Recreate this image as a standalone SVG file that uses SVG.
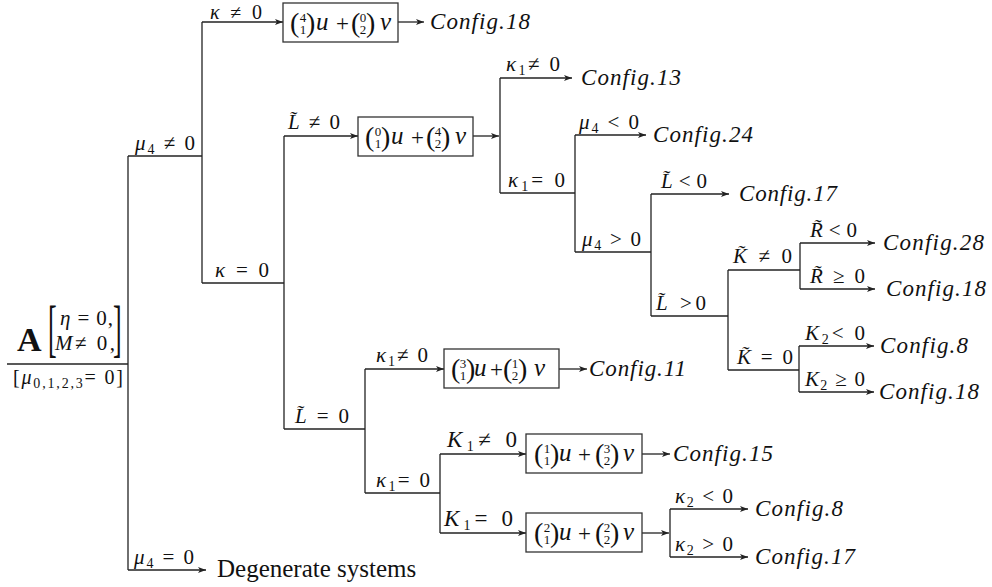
<svg xmlns="http://www.w3.org/2000/svg" width="992" height="587" viewBox="0 0 992 587">
<style>
.ln{fill:none;stroke:#222;stroke-width:1.3}
.ar{marker-end:url(#ah)}
.bx{fill:#fff;stroke:#333;stroke-width:1.3}
text{font-family:"Liberation Serif","DejaVu Serif",serif;fill:#111}
.i{font-style:italic}
.lb{font-size:21px}
.cf{font-size:23px;font-style:italic}
.sb{font-size:14px}
.pr{font-size:28px}
.nm{font-size:13px}
.bv{font-size:25px;font-style:italic}
.pl{font-size:23px}
</style>
<defs>
<marker id="ah" viewBox="0 0 8 6" refX="8" refY="3" markerWidth="8" markerHeight="6" markerUnits="userSpaceOnUse" orient="auto">
<path d="M0,0 L8,3 L0,6 L2,3 z" fill="#222"/>
</marker>
</defs>
<rect width="992" height="587" fill="#fff"/>

<g id="connectors">
<path class="ln" d="M128,156 V570"/>
<path class="ln" d="M128,156 H202"/>
<path class="ln ar" d="M128,570 H206"/>
<path class="ln" d="M202,22 V283"/>
<path class="ln ar" d="M202,22 H283"/>
<path class="ln" d="M202,283 H284"/>
<path class="ln ar" d="M398,22 H424"/>
<path class="ln" d="M284,136 V429"/>
<path class="ln ar" d="M284,136 H358"/>
<path class="ln ar" d="M473,136 H499"/>
<path class="ln" d="M500,78 V193"/>
<path class="ln ar" d="M500,78 H572"/>
<path class="ln" d="M500,193 H575"/>
<path class="ln" d="M575,135 V252"/>
<path class="ln ar" d="M575,135 H646"/>
<path class="ln" d="M575,252 H651"/>
<path class="ln" d="M651,194 V316"/>
<path class="ln ar" d="M651,194 H729"/>
<path class="ln" d="M651,316 H728"/>
<path class="ln" d="M728,270 V370"/>
<path class="ln" d="M728,270 H800"/>
<path class="ln" d="M728,370 H799"/>
<path class="ln" d="M800,243 V289"/>
<path class="ln ar" d="M800,243 H875"/>
<path class="ln ar" d="M800,289 H875"/>
<path class="ln" d="M799,346 V392"/>
<path class="ln ar" d="M799,346 H874"/>
<path class="ln ar" d="M799,392 H874"/>
<path class="ln" d="M284,429 H365"/>
<path class="ln" d="M365,369 V493"/>
<path class="ln ar" d="M365,369 H444"/>
<path class="ln ar" d="M559,369 H587"/>
<path class="ln" d="M365,493 H440"/>
<path class="ln" d="M440,454 V533"/>
<path class="ln ar" d="M440,454 H526"/>
<path class="ln ar" d="M440,533 H526"/>
<path class="ln ar" d="M642,454 H670"/>
<path class="ln ar" d="M642,533 H669"/>
<path class="ln" d="M670,509 V557"/>
<path class="ln ar" d="M670,509 H748"/>
<path class="ln ar" d="M670,557 H748"/>
</g>

<g id="labels">
<text class="lb" x="135" y="150" textLength="60" lengthAdjust="spacing"><tspan class="i">μ</tspan><tspan class="sb" dy="4">4</tspan><tspan dy="-4"> ≠ 0</tspan></text>
<text class="lb" x="210" y="19" style="font-size:20px" textLength="52" lengthAdjust="spacing"><tspan class="i">κ</tspan> ≠ 0</text>
<text class="lb" x="215" y="277" textLength="54" lengthAdjust="spacing"><tspan class="i">κ</tspan> = 0</text>
<text class="lb" x="288" y="129" textLength="52" lengthAdjust="spacing"><tspan class="i">L̃</tspan> ≠ 0</text>
<text class="lb" x="295" y="423" textLength="54" lengthAdjust="spacing"><tspan class="i">L̃</tspan> = 0</text>
<text class="lb" x="506" y="71" textLength="54" lengthAdjust="spacing"><tspan class="i">κ</tspan><tspan class="sb" dy="4">1</tspan><tspan dy="-4">≠ 0</tspan></text>
<text class="lb" x="508" y="187" textLength="57" lengthAdjust="spacing"><tspan class="i">κ</tspan><tspan class="sb" dy="4">1</tspan><tspan dy="-4">= 0</tspan></text>
<text class="lb" x="579" y="129" textLength="60" lengthAdjust="spacing"><tspan class="i">μ</tspan><tspan class="sb" dy="4">4</tspan><tspan dy="-4"> &lt; 0</tspan></text>
<text class="lb" x="582" y="246" textLength="59" lengthAdjust="spacing"><tspan class="i">μ</tspan><tspan class="sb" dy="4">4</tspan><tspan dy="-4"> &gt; 0</tspan></text>
<text class="lb" x="661" y="188" textLength="46" lengthAdjust="spacing"><tspan class="i">L̃</tspan>&lt;0</text>
<text class="lb" x="656" y="310" textLength="50" lengthAdjust="spacing"><tspan class="i">L̃</tspan> &gt;0</text>
<text class="lb" x="733" y="263" textLength="59" lengthAdjust="spacing"><tspan class="i">K̃</tspan> ≠ 0</text>
<text class="lb" x="737" y="364" textLength="56" lengthAdjust="spacing"><tspan class="i">K̃</tspan> = 0</text>
<text class="lb" x="810" y="237" textLength="47" lengthAdjust="spacing"><tspan class="i">R̃</tspan>&lt;0</text>
<text class="lb" x="810" y="283" textLength="55" lengthAdjust="spacing"><tspan class="i">R̃</tspan> ≥ 0</text>
<text class="lb" x="805" y="340" textLength="60" lengthAdjust="spacing"><tspan class="i">K</tspan><tspan class="sb" dy="4">2</tspan><tspan dy="-4">&lt; 0</tspan></text>
<text class="lb" x="805" y="386" textLength="60" lengthAdjust="spacing"><tspan class="i">K</tspan><tspan class="sb" dy="4">2</tspan><tspan dy="-4"> ≥ 0</tspan></text>
<text class="lb" x="376" y="362" textLength="52" lengthAdjust="spacing"><tspan class="i">κ</tspan><tspan class="sb" dy="4">1</tspan><tspan dy="-4">≠ 0</tspan></text>
<text class="lb" x="376" y="487" textLength="54" lengthAdjust="spacing"><tspan class="i">κ</tspan><tspan class="sb" dy="4">1</tspan><tspan dy="-4">= 0</tspan></text>
<text class="lb" x="447" y="447" style="font-size:23px" textLength="70" lengthAdjust="spacing"><tspan class="i">K</tspan><tspan class="sb" dy="4">1</tspan><tspan dy="-4">≠ 0</tspan></text>
<text class="lb" x="444" y="526" style="font-size:23px" textLength="69" lengthAdjust="spacing"><tspan class="i">K</tspan><tspan class="sb" dy="4">1</tspan><tspan dy="-4">= 0</tspan></text>
<text class="lb" x="675" y="503" textLength="58" lengthAdjust="spacing"><tspan class="i">κ</tspan><tspan class="sb" dy="4">2</tspan><tspan dy="-4"> &lt; 0</tspan></text>
<text class="lb" x="675" y="551" textLength="58" lengthAdjust="spacing"><tspan class="i">κ</tspan><tspan class="sb" dy="4">2</tspan><tspan dy="-4"> &gt; 0</tspan></text>
<text class="lb" x="134" y="564" textLength="60" lengthAdjust="spacing"><tspan class="i">μ</tspan><tspan class="sb" dy="4">4</tspan><tspan dy="-4"> = 0</tspan></text>
</g>

<g id="root">
<text x="17" y="351" style="font-size:34px;font-weight:bold">A</text>
<text class="pr" transform="translate(48,349) scale(1,2.4)" style="font-size:26px">[</text>
<text class="lb" x="60" y="325" textLength="53" lengthAdjust="spacing"><tspan class="i">η</tspan> = 0,</text>
<text class="lb" x="55" y="350" textLength="60" lengthAdjust="spacing"><tspan class="i">M</tspan>≠ 0,</text>
<text class="pr" transform="translate(113,349) scale(1,2.4)" style="font-size:26px">]</text>
<path class="ln" d="M7,364 H128"/>
<text x="13" y="384" style="font-size:20px" textLength="110" lengthAdjust="spacing">[<tspan class="i">μ</tspan><tspan style="font-size:14px" dy="4">0,1,2,3</tspan><tspan dy="-4">= 0]</tspan></text>
</g>

<g id="degenerate"><text x="217" y="577" style="font-size:25px">Degenerate systems</text></g>

<g id="box1" transform="translate(283,3)">
<rect class="bx" width="115" height="39"/>
<text><tspan class="pr" x="7" y="29">(</tspan><tspan class="nm" x="16.8" y="19">4</tspan><tspan class="nm" x="16.8" y="31">1</tspan><tspan class="pr" x="23" y="29">)</tspan><tspan class="bv" x="33" y="27">u</tspan><tspan class="pl" x="53" y="28">+</tspan><tspan class="pr" x="68" y="29">(</tspan><tspan class="nm" x="76.8" y="19">0</tspan><tspan class="nm" x="76.8" y="31">2</tspan><tspan class="pr" x="83" y="29">)</tspan><tspan class="bv" x="97" y="27">v</tspan></text>
</g>
<g id="box2" transform="translate(358,117)">
<rect class="bx" width="115" height="39"/>
<text><tspan class="pr" x="7" y="29">(</tspan><tspan class="nm" x="16.8" y="19">0</tspan><tspan class="nm" x="16.8" y="31">1</tspan><tspan class="pr" x="23" y="29">)</tspan><tspan class="bv" x="33" y="27">u</tspan><tspan class="pl" x="53" y="28">+</tspan><tspan class="pr" x="68" y="29">(</tspan><tspan class="nm" x="76.8" y="19">4</tspan><tspan class="nm" x="76.8" y="31">2</tspan><tspan class="pr" x="83" y="29">)</tspan><tspan class="bv" x="97" y="27">v</tspan></text>
</g>
<g id="box3" transform="translate(444,349)">
<rect class="bx" width="115" height="39"/>
<text><tspan class="pr" x="7" y="29">(</tspan><tspan class="nm" x="15.8" y="19">3</tspan><tspan class="nm" x="15.8" y="31">1</tspan><tspan class="pr" x="22" y="29">)</tspan><tspan class="bv" x="30" y="27">u</tspan><tspan class="pl" x="46" y="28">+</tspan><tspan class="pr" x="59" y="29">(</tspan><tspan class="nm" x="67.8" y="19">1</tspan><tspan class="nm" x="67.8" y="31">2</tspan><tspan class="pr" x="74" y="29">)</tspan><tspan class="bv" x="90" y="27">v</tspan></text>
</g>
<g id="box4" transform="translate(526,434)">
<rect class="bx" width="116" height="39"/>
<text><tspan class="pr" x="8" y="29">(</tspan><tspan class="nm" x="17.8" y="19">1</tspan><tspan class="nm" x="17.8" y="31">1</tspan><tspan class="pr" x="24" y="29">)</tspan><tspan class="bv" x="33" y="27">u</tspan><tspan class="pl" x="52" y="28">+</tspan><tspan class="pr" x="69" y="29">(</tspan><tspan class="nm" x="77.8" y="19">3</tspan><tspan class="nm" x="77.8" y="31">2</tspan><tspan class="pr" x="84" y="29">)</tspan><tspan class="bv" x="97" y="27">v</tspan></text>
</g>
<g id="box5" transform="translate(526,513)">
<rect class="bx" width="116" height="39"/>
<text><tspan class="pr" x="8" y="29">(</tspan><tspan class="nm" x="17.8" y="19">2</tspan><tspan class="nm" x="17.8" y="31">1</tspan><tspan class="pr" x="24" y="29">)</tspan><tspan class="bv" x="33" y="27">u</tspan><tspan class="pl" x="52" y="28">+</tspan><tspan class="pr" x="69" y="29">(</tspan><tspan class="nm" x="77.8" y="19">2</tspan><tspan class="nm" x="77.8" y="31">2</tspan><tspan class="pr" x="84" y="29">)</tspan><tspan class="bv" x="97" y="27">v</tspan></text>
</g>

<g id="cfg18a"><text class="cf" x="430" y="29" textLength="100" lengthAdjust="spacing">Config.18</text></g>
<g id="cfg13"><text class="cf" x="581" y="85" textLength="100" lengthAdjust="spacing">Config.13</text></g>
<g id="cfg24"><text class="cf" x="653" y="142" textLength="100" lengthAdjust="spacing">Config.24</text></g>
<g id="cfg17a"><text class="cf" x="739" y="201" textLength="98" lengthAdjust="spacing">Config.17</text></g>
<g id="cfg28"><text class="cf" x="883" y="250" textLength="101" lengthAdjust="spacing">Config.28</text></g>
<g id="cfg18b"><text class="cf" x="886" y="296" textLength="100" lengthAdjust="spacing">Config.18</text></g>
<g id="cfg8a"><text class="cf" x="880" y="353" textLength="88" lengthAdjust="spacing">Config.8</text></g>
<g id="cfg18c"><text class="cf" x="879" y="399" textLength="100" lengthAdjust="spacing">Config.18</text></g>
<g id="cfg11"><text class="cf" x="589" y="376" textLength="97" lengthAdjust="spacing">Config.11</text></g>
<g id="cfg15"><text class="cf" x="673" y="461" textLength="100" lengthAdjust="spacing">Config.15</text></g>
<g id="cfg8b"><text class="cf" x="755" y="516" textLength="88" lengthAdjust="spacing">Config.8</text></g>
<g id="cfg17b"><text class="cf" x="755" y="564" textLength="100" lengthAdjust="spacing">Config.17</text></g>
</svg>
